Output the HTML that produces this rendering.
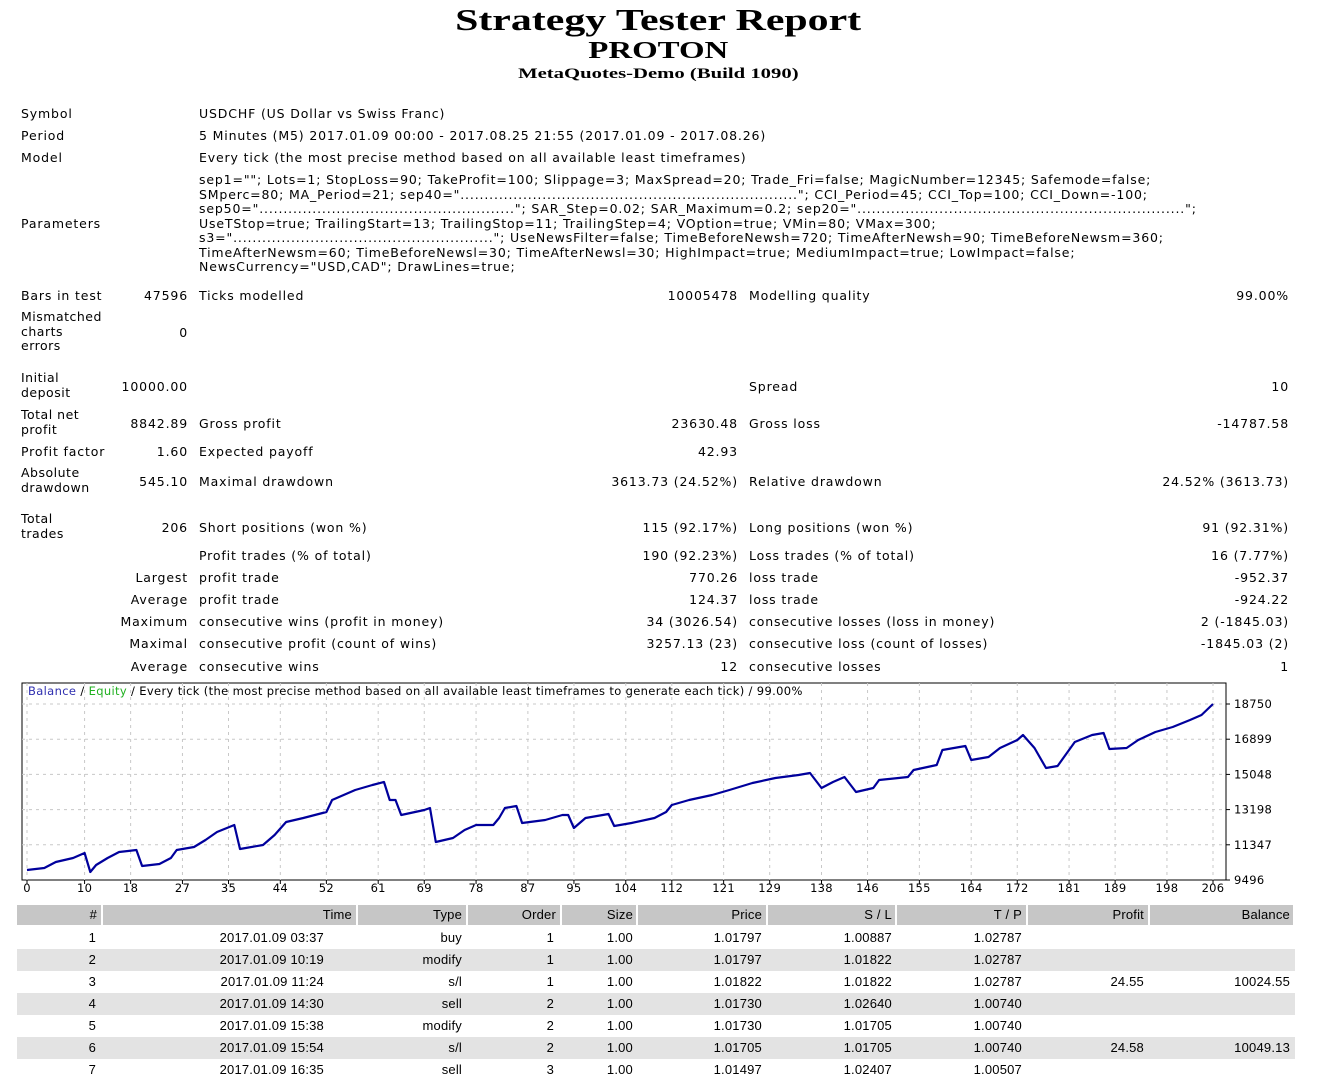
<!DOCTYPE html>
<html><head><meta charset="utf-8">
<style>
body{margin:0;width:1325px;height:1078px;background:#fff;position:relative;overflow:hidden;font-family:"DejaVu Sans","Liberation Sans",sans-serif;font-size:12.5px;letter-spacing:0.85px;color:#000}
.a{position:absolute;white-space:nowrap;line-height:15px}
.t{position:absolute;left:0;width:1325px;text-align:center;font-family:"Liberation Serif",serif;font-weight:bold;white-space:nowrap;letter-spacing:0;transform-origin:655px 0}
.p{position:absolute;left:199px;white-space:nowrap;line-height:14.5px}
.tc{font-family:"Liberation Sans",sans-serif;font-size:13px;letter-spacing:0.2px}
</style></head><body>
<div class="t" style="top:2px;font-size:31px;left:-7px;transform:scaleX(1.35)">Strategy Tester Report</div>
<div class="t" style="top:38px;font-size:24px;left:-7px;transform:scaleX(1.37)">PROTON</div>
<div class="t" style="top:66px;font-size:15px;left:-7px;transform:scaleX(1.38)">MetaQuotes-Demo (Build 1090)</div>

<div class="a" style="left:21px;top:106px">Symbol</div>
<div class="a" style="left:199px;top:106px">USDCHF (US Dollar vs Swiss Franc)</div>
<div class="a" style="left:21px;top:128px">Period</div>
<div class="a" style="left:199px;top:128px">5 Minutes (M5) 2017.01.09 00:00 - 2017.08.25 21:55 (2017.01.09 - 2017.08.26)</div>
<div class="a" style="left:21px;top:150px">Model</div>
<div class="a" style="left:199px;top:150px">Every tick (the most precise method based on all available least timeframes)</div>
<div class="a" style="left:21px;top:216px">Parameters</div>
<div>
<div class="p" style="top:173px">sep1=""; Lots=1; StopLoss=90; TakeProfit=100; Slippage=3; MaxSpread=20; Trade_Fri=false; MagicNumber=12345; Safemode=false;</div>
<div class="p" style="top:187.5px">SMperc=80; MA_Period=21; sep40="......................................................................"; CCI_Period=45; CCI_Top=100; CCI_Down=-100;</div>
<div class="p" style="top:202px">sep50="....................................................."; SAR_Step=0.02; SAR_Maximum=0.2; sep20="....................................................................";</div>
<div class="p" style="top:216.5px">UseTStop=true; TrailingStart=13; TrailingStop=11; TrailingStep=4; VOption=true; VMin=80; VMax=300;</div>
<div class="p" style="top:231px">s3="......................................................"; UseNewsFilter=false; TimeBeforeNewsh=720; TimeAfterNewsh=90; TimeBeforeNewsm=360;</div>
<div class="p" style="top:245.5px">TimeAfterNewsm=60; TimeBeforeNewsl=30; TimeAfterNewsl=30; HighImpact=true; MediumImpact=true; LowImpact=false;</div>
<div class="p" style="top:260px">NewsCurrency="USD,CAD"; DrawLines=true;</div>
</div>

<div id="stats"></div>

<svg id="chart" style="position:absolute;left:0;top:0;letter-spacing:0.3px" width="1325" height="900"></svg>

<div id="tbl"></div>

<script>
// ---------- stats ----------
var statRows = [
 [288,"Bars in test","47596","Ticks modelled","10005478","Modelling quality","99.00%"],
 [310,"Mismatched<br>charts<br>errors","0","","","",""],
 [371,"Initial<br>deposit","10000.00","","","Spread","10"],
 [408,"Total net<br>profit","8842.89","Gross profit","23630.48","Gross loss","-14787.58"],
 [444,"Profit factor","1.60","Expected payoff","42.93","",""],
 [466,"Absolute<br>drawdown","545.10","Maximal drawdown","3613.73 (24.52%)","Relative drawdown","24.52% (3613.73)"],
 [512,"Total<br>trades","206","Short positions (won %)","115 (92.17%)","Long positions (won %)","91 (92.31%)"],
 [548,"","","Profit trades (% of total)","190 (92.23%)","Loss trades (% of total)","16 (7.77%)"],
 [570,"","Largest","profit trade","770.26","loss trade","-952.37"],
 [592,"","Average","profit trade","124.37","loss trade","-924.22"],
 [614,"","Maximum","consecutive wins (profit in money)","34 (3026.54)","consecutive losses (loss in money)","2 (-1845.03)"],
 [636,"","Maximal","consecutive profit (count of wins)","3257.13 (23)","consecutive loss (count of losses)","-1845.03 (2)"],
 [659,"","Average","consecutive wins","12","consecutive losses","1"]
];
var st = document.getElementById('stats');
statRows.forEach(function(r){
  var y=r[0];
  var multi = r[1].indexOf('<br>')>=0;
  var lines = multi ? r[1].split('<br>').length : 1;
  var vy = y + (lines-1)*7.5;
  var cells = [[r[1],21,null,y],[r[2],null,1325-188,vy],[r[3],199,null,vy],[r[4],null,1325-738,vy],[r[5],749,null,vy],[r[6],null,1325-1289,vy]];
  cells.forEach(function(c){
    if(!c[0]) return;
    var d=document.createElement('div');
    
    
    d.className='a';
    d.innerHTML=c[0];
    d.style.top=c[3]+'px';
    if(c[1]!==null) d.style.left=c[1]+'px'; else {d.style.right=c[2]+'px';d.style.textAlign='right';}
    if(multi && c[1]===21) {d.style.lineHeight='14.5px';d.style.letterSpacing='0.5px';}
    st.appendChild(d);
  });
});

// ---------- chart ----------
var trades = [0,3,5,8,10,11,12,14,16,19,20,23,25,26,29,31,33,36,37,41,43,45,48,52,53,57,60,62,63,64,65,69,70,71,74,76,78,81,82,83,85,86,90,93,94,95,97,101,102,105,109,111,112,115,119,122,126,130,134,136,138,140,142,144,147,148,153,154,158,159,163,164,167,169,172,173,175,177,179,180,182,185,187,188,191,193,196,199,202,204,206];
var balance = [10022,10127,10442,10653,10916,9917,10285,10653,10968,11073,10232,10337,10653,11073,11231,11599,12020,12388,11126,11336,11862,12546,12756,13072,13702,14228,14491,14649,13702,13702,12914,13176,13282,11494,11704,12125,12388,12388,12756,13282,13387,12493,12651,12914,12914,12230,12756,12966,12335,12493,12756,13072,13440,13702,13965,14228,14596,14859,15017,15122,14333,14649,14912,14123,14333,14754,14912,15280,15543,16331,16542,15806,15964,16437,16857,17120,16437,15385,15490,15911,16752,17120,17225,16384,16437,16857,17278,17541,17909,18172,18750];
var yTicks = [9496,11347,13198,15048,16899,18750];
var xTicks = [0,10,18,27,35,44,52,61,69,78,87,95,104,112,121,129,138,146,155,164,172,181,189,198,206];
var X0=22,X1=1226,Y0=683,Y1=880,PL=27,PR=1213;
function xs(t){return PL+(t-0)/(206-0)*(PR-PL);}
function ys(v){return Y1-(v-9496)/(18750-9496)*(Y1-704);}
var svg=document.getElementById('chart'),NS='http://www.w3.org/2000/svg';
function mk(tag,attrs,name){var e=document.createElementNS(NS,tag);for(var k in attrs)e.setAttribute(k,attrs[k]);
 
 
 svg.appendChild(e);return e;}
mk('rect',{x:X0,y:Y0,width:X1-X0,height:Y1-Y0,fill:'#fff',stroke:'#000','stroke-width':1},'plot-frame');
yTicks.forEach(function(v){
  var y=ys(v);
  if(v!==9496) mk('line',{x1:X0,x2:X1,y1:y,y2:y,stroke:'#c8c8c8','stroke-dasharray':'3,4'},'y-grid-line');
  mk('line',{x1:X1,x2:X1+4,y1:y,y2:y,stroke:'#000'},'y-tick');
  var t=mk('text',{x:1234,y:y+4,'font-size':'11.5',fill:'#000','font-family':'DejaVu Sans, sans-serif'},'y-tick-label');t.textContent=v;
});
xTicks.forEach(function(v){
  var x=xs(v);
  mk('line',{x1:x,x2:x,y1:Y0,y2:Y1,stroke:'#c8c8c8','stroke-dasharray':'3,4'},'x-grid-line');
  mk('line',{x1:x,x2:x,y1:Y1,y2:Y1+4,stroke:'#000'},'x-tick');
  var t=mk('text',{x:x,y:892,'font-size':'11.5','text-anchor':'middle',fill:'#000','font-family':'DejaVu Sans, sans-serif'},'x-tick-label');t.textContent=v;
});
var pts=trades.map(function(t,i){return xs(t).toFixed(1)+','+ys(balance[i]).toFixed(1);}).join(' ');
mk('polyline',{points:pts,fill:'none',stroke:'#00009c','stroke-width':2.2,'stroke-linejoin':'round'},'balance-line');
var lg=mk('text',{x:28,y:695,'font-size':'11.5','font-family':'DejaVu Sans, sans-serif','letter-spacing':'0.35'},'chart-legend');
lg.innerHTML='<tspan fill="#3030b0">Balance</tspan><tspan fill="#000"> / </tspan><tspan fill="#20b020">Equity</tspan><tspan fill="#000"> / Every tick (the most precise method based on all available least timeframes to generate each tick) / 99.00%</tspan>';

// ---------- table ----------
var headers = ["#","Time","Type","Order","Size","Price","S / L","T / P","Profit","Balance"];
var colL = [17,103,358,468,562,638,768,897,1028,1150];
var colR = [103,358,468,562,638,768,897,1028,1150,1295];
var hEnd = [97,352,462,556,633,762,892,1022,1144,1290];
var dEnd = [96,324,462,554,633,762,892,1022,1144,1290];
var rows = [
 ["1","2017.01.09 03:37","buy","1","1.00","1.01797","1.00887","1.02787","",""],
 ["2","2017.01.09 10:19","modify","1","1.00","1.01797","1.01822","1.02787","",""],
 ["3","2017.01.09 11:24","s/l","1","1.00","1.01822","1.01822","1.02787","24.55","10024.55"],
 ["4","2017.01.09 14:30","sell","2","1.00","1.01730","1.02640","1.00740","",""],
 ["5","2017.01.09 15:38","modify","2","1.00","1.01730","1.01705","1.00740","",""],
 ["6","2017.01.09 15:54","s/l","2","1.00","1.01705","1.01705","1.00740","24.58","10049.13"],
 ["7","2017.01.09 16:35","sell","3","1.00","1.01497","1.02407","1.00507","",""]
];
var tb=document.getElementById('tbl');
headers.forEach(function(h,i){
  var d=document.createElement('div');
  
  
  d.className='a';
  d.style.cssText='left:'+colL[i]+'px;width:'+(colR[i]-colL[i]-2)+'px;top:905px;height:20px;background:#c6c6c6;';
  tb.appendChild(d);
  var s=document.createElement('div');
  
  
  s.className='a tc';
  s.textContent=h;
  s.style.cssText='top:907px;right:'+(1325-hEnd[i])+'px;';
  tb.appendChild(s);
});
rows.forEach(function(r,ri){
  var top=927+ri*22;
  var bg=document.createElement('div');
  
  
  bg.className='a';
  bg.style.cssText='left:17px;width:1278px;top:'+top+'px;height:22px;background:'+(ri%2?'#e3e3e3':'#fff')+';';
  tb.appendChild(bg);
  r.forEach(function(v,i){
    if(!v) return;
    var c=document.createElement('div');
    
    
    c.className='a tc';
    c.textContent=v;
    c.style.cssText='top:'+(top+3)+'px;right:'+(1325-dEnd[i])+'px;';
    tb.appendChild(c);
  });
});
</script>
</body></html>
